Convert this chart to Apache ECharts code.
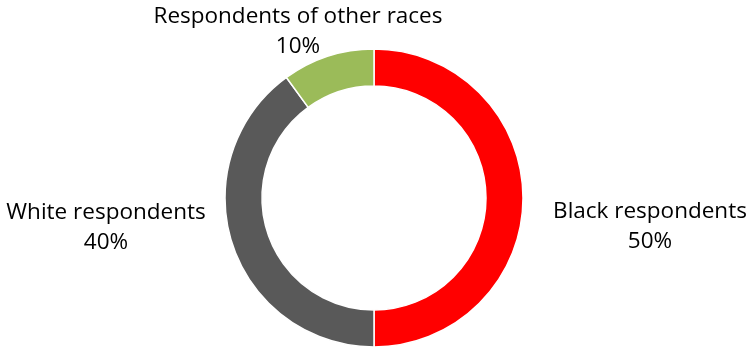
<!DOCTYPE html>
<html><head><meta charset="utf-8">
<script src="https://cdn.jsdelivr.net/npm/echarts@6/dist/echarts.min.js"></script>
<style>html,body{margin:0;padding:0;background:#fff}#c{width:749px;height:349px}</style>
</head><body><div id="c"></div>
<script>
const categories = ["Black respondents", "White respondents", "Respondents of other races"];
const values = [50, 40, 10];
const colors = ["#FF0000", "#595959", "#9BBB59"];
const labelPos = [
  {x: 650, y: 227},
  {x: 106, y: 228},
  {x: 298, y: 32}
];
const chart = echarts.init(document.getElementById('c'));
chart.setOption({
  animation: false,
  series: [{
    type: 'pie',
    center: [374, 198],
    radius: [112, 149],
    startAngle: 90,
    clockwise: true,
    data: categories.map((n, i) => ({name: n, value: values[i], itemStyle: {color: colors[i]}})),
    itemStyle: {borderColor: '#fff', borderWidth: 1.5},
    label: {
      show: true, position: 'outside', overflow: 'none',
      formatter: '{b}\n{d}%',
      fontFamily: 'Open Sans', fontSize: 22.5, color: '#000', lineHeight: 30, align: 'center'
    },
    labelLine: {show: false},
    labelLayout: function (p) {
      const q = labelPos[p.dataIndex];
      return {x: q.x, y: q.y, align: 'center', verticalAlign: 'middle'};
    }
  }]
});
</script></body></html>
